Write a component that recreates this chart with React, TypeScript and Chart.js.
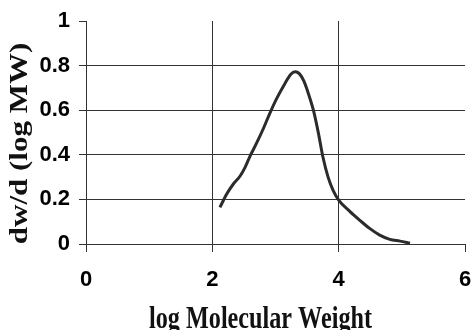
import React, { useEffect, useRef } from "react";
import { Chart, registerables } from "chart.js";

Chart.register(...registerables);

// ---- data ----
const logMW = [2.12, 2.23, 2.33, 2.44, 2.52, 2.59, 2.70, 2.81, 2.91, 3.02, 3.15, 3.24, 3.31, 3.38, 3.45, 3.52, 3.60, 3.68, 3.75, 3.83, 3.91, 4.00, 4.18, 4.34, 4.49, 4.65, 4.81, 4.97, 5.13];
const dwdlogMW = [0.164, 0.225, 0.268, 0.305, 0.345, 0.39, 0.452, 0.519, 0.586, 0.653, 0.72, 0.76, 0.772, 0.763, 0.73, 0.675, 0.60, 0.496, 0.391, 0.302, 0.242, 0.197, 0.145, 0.105, 0.07, 0.04, 0.021, 0.013, 0.004];
const xTickValues = [0, 2, 4, 6];
const yTickValues = [0, 0.2, 0.4, 0.6, 0.8, 1];
const xTitle = "log Molecular Weight";
const yTitle = "dw/d (log MW)";

const W = 474;
const H = 330;
const GRID = "#333333";
const TITLE_SQUEEZE = 0.78;

const titlesPlugin = {
  id: "customTitles",
  afterDraw(chart: any) {
    const ctx = chart.ctx;
    ctx.save();
    ctx.fillStyle = "#111111";
    ctx.font = 'bold 31px "Liberation Serif", "Times New Roman", serif';
    ctx.textAlign = "center";
    ctx.textBaseline = "alphabetic";
    ctx.save();
    ctx.translate(260.5, 327.5);
    ctx.scale(TITLE_SQUEEZE, 1);
    ctx.fillText(xTitle, 0, 0);
    ctx.restore();
    ctx.translate(21, 143.5);
    ctx.rotate(-Math.PI / 2);
    ctx.scale(1, TITLE_SQUEEZE);
    ctx.textBaseline = "middle";
    ctx.fillText(yTitle, 0, 0);
    ctx.restore();
  },
};

export default function App() {
  const canvasRef = useRef<HTMLCanvasElement | null>(null);

  useEffect(() => {
    const canvas = canvasRef.current;
    if (!canvas) return;
    const tickFont = { family: '"Liberation Sans", Arial, sans-serif', size: 22, weight: "bold" as const };
    const chart = new Chart(canvas, {
      type: "scatter",
      data: {
        datasets: [
          {
            data: logMW.map((x, i) => ({ x, y: dwdlogMW[i] })),
            showLine: true,
            borderColor: "#2b2b2b",
            borderWidth: 3,
            pointRadius: 0,
            tension: 0.4,
            cubicInterpolationMode: "monotone",
            fill: false,
          },
        ],
      },
      options: {
        animation: false,
        responsive: false,
        devicePixelRatio: 1,
        layout: { padding: { top: 21, right: W - 465, bottom: 0, left: 0 } },
        plugins: { legend: { display: false }, tooltip: { enabled: false } },
        scales: {
          x: {
            type: "linear",
            min: 0,
            max: 6,
            afterBuildTicks: (s: any) => {
              s.ticks = xTickValues.map((v) => ({ value: v }));
            },
            afterFit: (s: any) => {
              s.height = H - 244;
              s.paddingLeft = 0;
              s.paddingRight = 0;
            },
            ticks: {
              font: tickFont,
              color: "#000",
              padding: 15,
              maxRotation: 0,
              callback: (v: any) => String(v),
            },
            grid: {
              color: (c: any) => (c.tick && c.tick.value === 6 ? "rgba(0,0,0,0)" : GRID),
              tickColor: GRID,
              tickLength: 8,
              lineWidth: 1,
            },
            border: { display: true, color: GRID, width: 1 },
          },
          y: {
            type: "linear",
            min: 0,
            max: 1,
            afterBuildTicks: (s: any) => {
              s.ticks = yTickValues.map((v) => ({ value: v }));
            },
            afterFit: (s: any) => {
              s.width = 86;
              s.paddingTop = 0;
              s.paddingBottom = 0;
            },
            ticks: {
              font: tickFont,
              color: "#000",
              padding: 9,
              callback: (v: any) => String(v),
            },
            grid: {
              color: (c: any) => (c.tick && c.tick.value === 1 ? "rgba(0,0,0,0)" : GRID),
              tickColor: GRID,
              tickLength: 7,
              lineWidth: 1,
            },
            border: { display: true, color: GRID, width: 1 },
          },
        },
      },
      plugins: [titlesPlugin],
    });
    return () => chart.destroy();
  }, []);

  return (
    <div style={{ position: "absolute", left: 0, top: 0, width: W, height: H, background: "#fff" }}>
      <canvas ref={canvasRef} width={W} height={H} style={{ width: W + "px", height: H + "px", display: "block" }} />
    </div>
  );
}
